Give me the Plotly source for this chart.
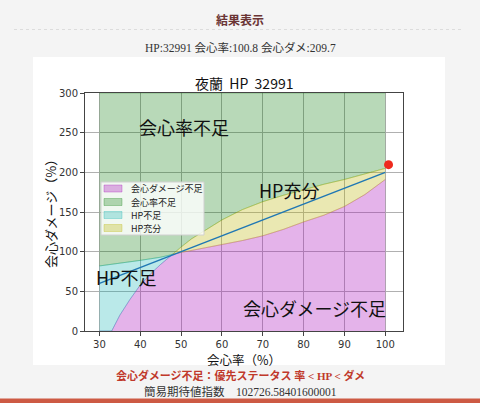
import plotly.graph_objects as go

# ---- data ----
rate = [30, 33, 35, 37.5, 40, 42.5, 45, 47.5, 48, 50, 52.5, 55, 60, 65, 70, 75, 80, 85, 90, 95, 100]
dmg_short = [0, 0, 20, 40, 58, 72, 84, 94, 97, 99, 101.5, 104, 108.5, 114, 120, 128, 137.5, 146, 157, 172, 191]
rate_short = [82, 84, 85, 87, 89, 91, 93, 96, 97, 106, 116, 124, 140, 153, 163, 171, 178, 185, 191, 198, 205]
top_val = [300] * len(rate)
balance_x = [30, 100]
balance_y = [60, 200]
cur_rate = [100.8]
cur_dmg = [209.7]
xticks = [30, 40, 50, 60, 70, 80, 90, 100]
yticks = [0, 50, 100, 150, 200, 250, 300]
legend_names = ["会心ダメージ不足", "会心率不足", "HP不足", "HP充分"]

split = rate.index(48)

C_M = "rgba(170,20,190,0.32)"
C_G = "rgba(0,120,0,0.28)"
C_C = "rgba(0,175,175,0.27)"
C_Y = "rgba(185,180,0,0.3)"
legend_colors = [C_M, C_G, C_C, C_Y]

CJK = "Noto Sans CJK JP"
SERIF = "Liberation Serif, " + CJK

fig = go.Figure()

# magenta: 会心ダメージ不足
fig.add_trace(go.Scatter(x=rate, y=dmg_short, fill="tozeroy", fillcolor=C_M,
                         line=dict(color=C_M, width=1), mode="lines", name=legend_names[0]))
# green: 会心率不足
fig.add_trace(go.Scatter(x=rate, y=rate_short, mode="lines", line=dict(color=C_G, width=1),
                         hoverinfo="skip"))
fig.add_trace(go.Scatter(x=rate, y=top_val, fill="tonexty", fillcolor=C_G,
                         line=dict(color=C_G, width=1), mode="lines", name=legend_names[1]))
# cyan: HP不足
fig.add_trace(go.Scatter(x=rate[:split + 1], y=dmg_short[:split + 1], mode="lines",
                         line=dict(color=C_C, width=1), hoverinfo="skip"))
fig.add_trace(go.Scatter(x=rate[:split + 1], y=rate_short[:split + 1], fill="tonexty",
                         fillcolor=C_C, line=dict(color=C_C, width=1), mode="lines",
                         name=legend_names[2]))
# yellow: HP充分
fig.add_trace(go.Scatter(x=rate[split:], y=dmg_short[split:], mode="lines",
                         line=dict(color=C_Y, width=1), hoverinfo="skip"))
fig.add_trace(go.Scatter(x=rate[split:], y=rate_short[split:], fill="tonexty",
                         fillcolor=C_Y, line=dict(color=C_Y, width=1), mode="lines",
                         name=legend_names[3]))
# balance line
fig.add_trace(go.Scatter(x=balance_x, y=balance_y, mode="lines",
                         line=dict(color="#1f77b4", width=1.5)))
# current point
fig.add_trace(go.Scatter(x=cur_rate, y=cur_dmg, mode="markers",
                         marker=dict(color="#ee2a1d", size=9)))


def px_x(p):
    return (p - 85) / 318.0


def px_y(p):
    return (331 - p) / 238.0


ann = []
for txt, x, y in [("会心率不足", 50.7, 257.5), ("HP充分", 76.6, 177.4),
                  ("HP不足", 36.5, 68), ("会心ダメージ不足", 82.6, 29)]:
    ann.append(dict(text=txt, x=x, y=y, xref="x", yref="y", showarrow=False,
                    xanchor="center", yanchor="middle",
                    font=dict(family=CJK, size=18, color="#111")))


def pann(text, px, py, size, color="#111", family=CJK, angle=0, xanchor="center"):
    return dict(text=text, x=px_x(px), y=px_y(py), xref="paper", yref="paper",
                showarrow=False, xanchor=xanchor, yanchor="middle", textangle=angle,
                font=dict(family=family, size=size, color=color))


ann += [
    pann("夜蘭  HP  32991", 244, 83, 14),
    pann("会心率（%）", 244, 359, 12.5),
    pann("会心ダメージ（%）", 50, 211, 13, angle=-90),
    pann("<b>結果表示</b>", 240, 21, 12, color="#6b3434", family=SERIF),
    pann("HP:32991 会心率:100.8 会心ダメ:209.7", 240, 47.5, 11.5, color="#333", family=SERIF),
    pann("<b>会心ダメージ不足：優先ステータス 率 &lt; HP &lt; ダメ</b>", 240, 375, 11,
         color="#c0392b", family=SERIF),
    pann("簡易期待値指数　102726.58401600001", 240, 391, 11.5, color="#333", family=SERIF),
]

shapes = [
    dict(type="rect", xref="paper", yref="paper", x0=px_x(33), x1=px_x(445),
         y0=px_y(365), y1=px_y(57), fillcolor="white", line=dict(width=0), layer="below"),
    dict(type="line", xref="paper", yref="paper", x0=px_x(14), x1=px_x(461),
         y0=px_y(29.5), y1=px_y(29.5), line=dict(color="#dcdcdc", width=1, dash="dot")),
    dict(type="rect", xref="paper", yref="paper", x0=px_x(-5), x1=px_x(485),
         y0=px_y(410), y1=px_y(398.5), fillcolor="#cd5a44", line=dict(width=0)),
    # legend box
    dict(type="rect", xref="paper", yref="paper", x0=px_x(101), x1=px_x(204),
         y0=px_y(235), y1=px_y(182), fillcolor="rgba(255,255,255,0.8)",
         line=dict(color="#d0d0d0", width=1), layer="above"),
]

row_y = [188.5, 202, 215, 228]
for name, col, ry in zip(legend_names, legend_colors, row_y):
    shapes.append(dict(type="rect", xref="paper", yref="paper", x0=px_x(104), x1=px_x(122),
                       y0=px_y(ry + 3.5), y1=px_y(ry - 3.5), fillcolor=col,
                       line=dict(color=col, width=1), layer="above"))
    ann.append(pann(name, 129, ry, 9, color="#222", xanchor="left"))

axis_common = dict(showgrid=True, gridcolor="#b0b0b0", gridwidth=1, zeroline=False,
                   showline=True, linecolor="#444", linewidth=1, mirror=True,
                   ticks="outside", ticklen=4, tickcolor="#444",
                   tickfont=dict(family="DejaVu Sans", size=10, color="#333"))

fig.update_layout(
    width=480, height=403,
    margin=dict(l=85, r=77, t=93, b=72),
    paper_bgcolor="#f4f4f4", plot_bgcolor="white",
    xaxis=dict(range=[26.46, 104.34], tickvals=xticks, **axis_common),
    yaxis=dict(range=[0, 300], tickvals=yticks, **axis_common),
    annotations=ann, shapes=shapes, showlegend=False,
)

fig.write_html(
    "out.html",
    config={"displayModeBar": False},
    post_script="document.body.style.margin='0';document.body.style.background='#f4f4f4';"
                "document.documentElement.style.overflow='hidden';",
)
